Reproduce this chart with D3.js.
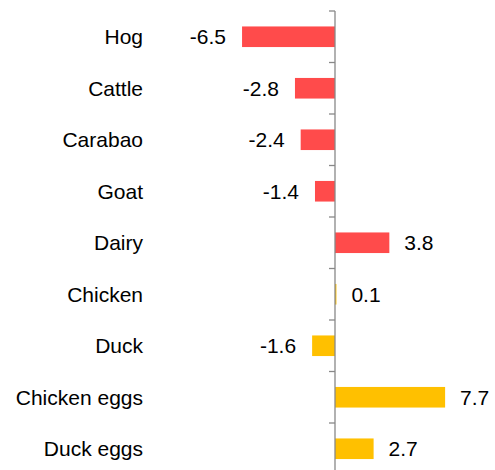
<!DOCTYPE html>
<html><head><meta charset="utf-8">
<script src="https://cdn.jsdelivr.net/npm/d3@7"></script>
<style>body{margin:0;background:#fff}svg{display:block}</style>
</head><body>
<svg id="c" width="495" height="470"></svg>
<script>
const categories = ["Hog","Cattle","Carabao","Goat","Dairy","Chicken","Duck","Chicken eggs","Duck eggs"];
const values = [-6.5,-2.8,-2.4,-1.4,3.8,0.1,-1.6,7.7,2.7];
const groups = ["livestock","livestock","livestock","livestock","livestock","poultry","poultry","poultry","poultry"];
const colors = {livestock:"#FF4B4B", poultry:"#FFC000"};

const svg = d3.select("#c");
const x = d3.scaleLinear().domain([-8, 8]).range([335 - 8*14.3, 335 + 8*14.3]);
const y = d3.scaleBand().domain(categories).range([11, 474.5]).paddingInner(0.6).paddingOuter(0.3);

const half = (y.step() - y.bandwidth()) / 2;
const bounds = categories.map(c => y(c) - half).concat([y(categories[categories.length-1]) + y.bandwidth() + half]);

// bars
svg.selectAll("rect.bar").data(categories).join("rect")
  .attr("class","bar")
  .attr("x", (c,i) => Math.min(x(0), x(values[i])))
  .attr("width", (c,i) => Math.abs(x(values[i]) - x(0)))
  .attr("y", c => y(c))
  .attr("height", y.bandwidth())
  .attr("fill", (c,i) => colors[groups[i]]);

// axis
const ax = svg.append("g").attr("stroke","#888").attr("stroke-width",1.3);
ax.append("line").attr("x1", x(0)).attr("x2", x(0)).attr("y1", bounds[0]).attr("y2", 470);
ax.selectAll("line.t").data(bounds).join("line").attr("class","t")
  .attr("x1", x(0) - 6).attr("x2", x(0)).attr("y1", d => d).attr("y2", d => d);

// category labels
svg.selectAll("text.cat").data(categories).join("text")
  .attr("class","cat")
  .attr("x", 143).attr("y", c => y(c) + y.bandwidth()/2)
  .attr("dy","0.35em").attr("text-anchor","end")
  .attr("font-family","Liberation Sans, Arial, sans-serif").attr("font-size",21).attr("fill","#000")
  .text(c => c);

// value labels
svg.selectAll("text.val").data(categories).join("text")
  .attr("class","val")
  .attr("x", (c,i) => values[i] < 0 ? x(values[i]) - 16 : x(values[i]) + 15)
  .attr("y", c => y(c) + y.bandwidth()/2)
  .attr("dy","0.35em")
  .attr("text-anchor", (c,i) => values[i] < 0 ? "end" : "start")
  .attr("font-family","Liberation Sans, Arial, sans-serif").attr("font-size",21).attr("fill","#000")
  .text((c,i) => values[i].toFixed(1));
</script>
</body></html>
